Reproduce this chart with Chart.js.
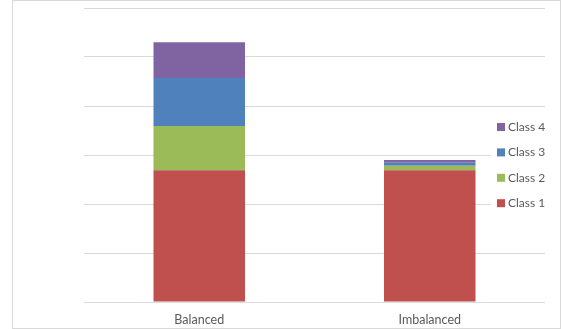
<!DOCTYPE html>
<html>
<head>
<meta charset="utf-8">
<script src="https://cdn.jsdelivr.net/npm/chart.js@4"></script>
<style>
  body { margin: 0; background: #fff; }
  #cadre { position: absolute; left: 12px; top: 0; width: 547px; height: 327px; border: 1px solid #d9d9d9; }
  #graphique { position: absolute; left: 0; top: 0; }
</style>
</head>
<body>
<div id="cadre"></div>
<canvas id="graphique" width="561" height="329"></canvas>
<script>
// categories et valeurs
const categories = ['Balanced', 'Imbalanced'];
const classe1 = [26.9, 26.9];
const classe2 = [9.0, 0.9];
const classe3 = [9.8, 0.6];
const classe4 = [7.3, 0.6];
const nomsClasses = ['Class 1', 'Class 2', 'Class 3', 'Class 4'];
const couleurs = ['#C0504D', '#9BBB59', '#4F81BD', '#8064A2'];

const police = 'Lato, "Open Sans", sans-serif';

// legende dessinee a droite, par dessus la grille (ordre inverse)
const legendePlugin = {
    id: 'legendeDroite',
    afterDraw(chart) {
        const ctx = chart.ctx;
        ctx.save();
        ctx.fillStyle = '#ffffff';
        ctx.fillRect(491, 114, 56, 102);
        ctx.font = '12px ' + police;
        ctx.textBaseline = 'middle';
        ctx.textAlign = 'left';
        const ds = chart.data.datasets;
        for (let i = ds.length - 1; i >= 0; i--) {
            const y = 127 + (ds.length - 1 - i) * 25.4;
            ctx.fillStyle = ds[i].backgroundColor;
            ctx.fillRect(497, y - 4, 8, 8);
            ctx.fillStyle = '#595959';
            ctx.fillText(ds[i].label, 508, y);
        }
        ctx.restore();
    }
};

const series = [classe1, classe2, classe3, classe4];
const datasets = series.map((valeurs, i) => ({
    label: nomsClasses[i],
    data: valeurs,
    backgroundColor: couleurs[i],
    borderWidth: 0,
    categoryPercentage: 1,
    barPercentage: 0.397
}));

new Chart(document.getElementById('graphique'), {
    type: 'bar',
    data: { labels: categories, datasets: datasets },
    plugins: [legendePlugin],
    options: {
        responsive: false,
        animation: false,
        devicePixelRatio: 1,
        layout: { padding: { left: 84, right: 16, top: 8, bottom: 0 } },
        plugins: { legend: { display: false }, tooltip: { enabled: false } },
        scales: {
            x: {
                stacked: true,
                grid: { display: false, drawTicks: false },
                border: { display: false },
                ticks: { color: '#595959', font: { family: police, size: 12.5 }, padding: 10 },
                afterFit: (axe) => { axe.height = 27; }
            },
            y: {
                stacked: true,
                min: 0,
                max: 60,
                ticks: { display: false, stepSize: 10 },
                border: { display: false },
                grid: { color: '#d9d9d9', drawTicks: false }
            }
        }
    }
});
</script>
</body>
</html>
